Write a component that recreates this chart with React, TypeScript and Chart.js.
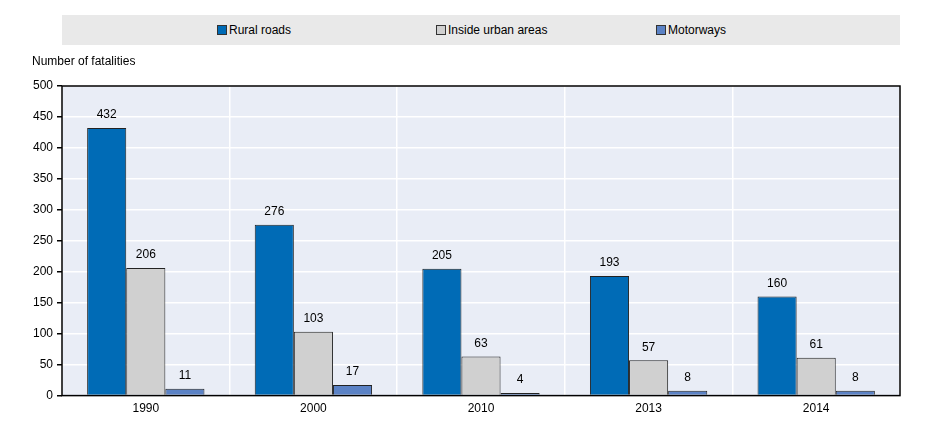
import React, { useEffect, useRef } from "react";
import { Chart, registerables } from "chart.js";
Chart.register(...registerables);

const categories = ["1990", "2000", "2010", "2013", "2014"];
const rural = [432, 276, 205, 193, 160];
const urban = [206, 103, 63, 57, 61];
const motorways = [11, 17, 4, 8, 8];
const seriesNames = ["Rural roads", "Inside urban areas", "Motorways"];
const colors = ["#006bb6", "#d0d0d0", "#5b82c5"];
const FONT = "'Liberation Sans Narrow', 'Liberation Sans', Arial, sans-serif";

const bgPlugin = {
  id: "bg",
  beforeDraw(chart: any) {
    const { ctx, chartArea: a } = chart;
    ctx.save();
    ctx.fillStyle = "#e9edf6";
    ctx.fillRect(a.left, a.top, a.right - a.left, a.bottom - a.top);
    ctx.restore();
  },
  afterDraw(chart: any) {
    const { ctx, chartArea: a } = chart;
    ctx.save();
    ctx.font = `12px ${FONT}`;
    ctx.fillStyle = "#000";
    ctx.textAlign = "left";
    ctx.textBaseline = "middle";
    ctx.fillText("Number of fatalities", 24, 54);
    ctx.textAlign = "center";
    ctx.textBaseline = "bottom";
    chart.data.datasets.forEach((ds: any, i: number) => {
      chart.getDatasetMeta(i).data.forEach((el: any, j: number) => {
        ctx.fillText(String(ds.data[j]), el.x, el.y - 7);
      });
    });
    ctx.strokeStyle = "#000";
    ctx.lineWidth = 1.5;
    ctx.strokeRect(a.left, a.top, a.right - a.left, a.bottom - a.top);
    ctx.restore();
  },
};

export default function App() {
  const ref = useRef<HTMLCanvasElement>(null);
  useEffect(() => {
    const chart = new Chart(ref.current!, {
      type: "bar",
      data: {
        labels: categories,
        datasets: [rural, urban, motorways].map((d, i) => ({
          label: seriesNames[i],
          data: d,
          backgroundColor: colors[i],
          borderColor: "#222",
          borderWidth: 1,
          barPercentage: 1,
          categoryPercentage: 0.7,
        })),
      },
      options: {
        animation: false,
        responsive: false,
        layout: { padding: { top: 78, right: 35, left: 0, bottom: 0 } },
        plugins: { legend: { display: false }, tooltip: { enabled: false } },
        scales: {
          x: {
            grid: { color: "#ffffff", lineWidth: 1.5, drawTicks: false },
            border: { display: false },
            ticks: { font: { family: FONT, size: 12 }, color: "#000", padding: 6 },
          },
          y: {
            min: 0,
            max: 500,
            afterFit: (s: any) => { s.width = 54; },
            grid: { color: "#ffffff", lineWidth: 1.5, tickColor: "#000", tickLength: 5 },
            border: { display: false },
            ticks: { stepSize: 50, font: { family: FONT, size: 12 }, color: "#000", padding: 4 },
          },
        },
      },
      plugins: [bgPlugin],
    });
    return () => chart.destroy();
  }, []);
  return (
    <div style={{ position: "relative", width: 927, height: 414, fontFamily: FONT }}>
      <canvas ref={ref} width={927} height={414} />
      <div style={{ position: "absolute", left: 54, top: 7, width: 838, height: 30, background: "#e9e9e9", display: "flex", alignItems: "center", fontSize: 12 }}>
        {seriesNames.map((n, i) => (
          <div key={n} style={{ position: "absolute", left: [155, 374, 594][i], display: "flex", alignItems: "center" }}>
            <span style={{ display: "inline-block", width: 8, height: 8, background: colors[i], border: "1px solid #333", marginRight: 2 }} />
            {n}
          </div>
        ))}
      </div>
    </div>
  );
}
